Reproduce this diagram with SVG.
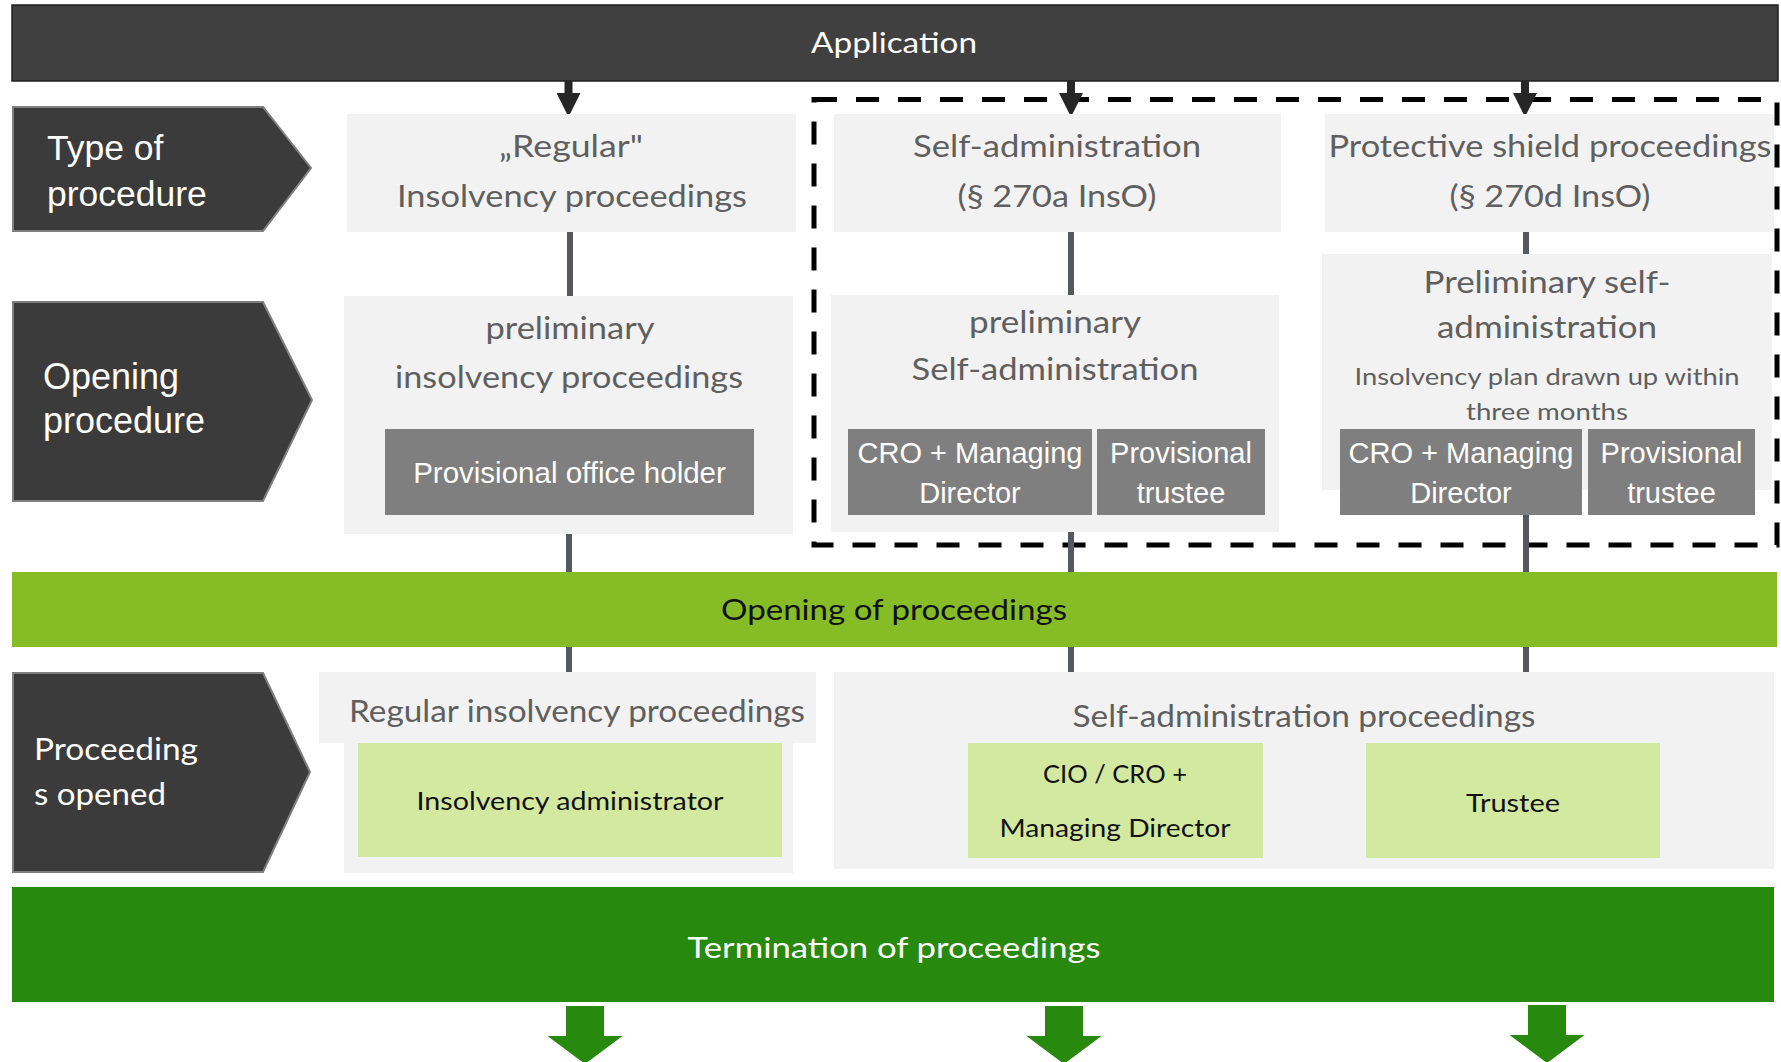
<svg xmlns="http://www.w3.org/2000/svg" width="1781" height="1062" viewBox="0 0 1781 1062">
<style>
.chev{fill:#3b3b3b;stroke:#7f7f7f;stroke-width:2}
.lt{fill:#f2f2f2}
.dk{fill:#7f7f7f}
.lg{fill:#d3e9a0}
.cal{font-family:Lato,"Open Sans",sans-serif}
.ar{font-family:"Liberation Sans",Arial,sans-serif}
.g{fill:#5f5f5f;text-anchor:middle}
.w{fill:#ffffff}
.b{fill:#111111;text-anchor:middle}
.m{text-anchor:middle}
.conn{stroke:#55595e;stroke-width:6;fill:none}
.arr{stroke:#262626;stroke-width:8;fill:none}
.dash{fill:none;stroke:#000;stroke-width:5;stroke-dasharray:23 19}
</style>
<defs>
<marker id="ah" markerUnits="userSpaceOnUse" markerWidth="24" markerHeight="24" refX="0" refY="12" orient="auto" viewBox="0 0 24 24">
<path d="M0,0 L24,12 L0,24 z" fill="#262626"/>
</marker>
</defs>

<g id="application">
<rect x="12" y="5" width="1766" height="76" fill="#404040" stroke="#1f1f1f" stroke-width="1.5"/>
<text class="cal w m" x="894" y="53" font-size="29.5" textLength="166" lengthAdjust="spacingAndGlyphs">Application</text>
</g>

<g id="stage-type">
<polygon class="chev" points="13,107 263,107 311,168 263,231 13,231"/>
<text class="ar w" x="47" y="160" font-size="35.5">Type of</text>
<text class="ar w" x="47" y="206" font-size="35.5">procedure</text>
</g>
<g id="stage-opening">
<polygon class="chev" points="13,302 263,302 312,400 263,501 13,501"/>
<text class="ar w" x="43" y="389" font-size="36">Opening</text>
<text class="ar w" x="43" y="433" font-size="36">procedure</text>
</g>
<g id="stage-opened">
<polygon class="chev" points="13,673 263,673 310,772 263,872 13,872"/>
<text class="cal w" x="34" y="760" font-size="31" textLength="164" lengthAdjust="spacingAndGlyphs">Proceeding</text>
<text class="cal w" x="34" y="805" font-size="31" textLength="132" lengthAdjust="spacingAndGlyphs">s opened</text>
</g>

<g id="dashed-frame">
<rect class="dash" x="814" y="99.5" width="963" height="445.5"/>
</g>

<g id="connectors">
<line class="arr" x1="568.5" y1="81" x2="568.5" y2="93" marker-end="url(#ah)"/>
<line class="arr" x1="1071" y1="81" x2="1071" y2="93" marker-end="url(#ah)"/>
<line class="arr" x1="1525" y1="81" x2="1525" y2="93" marker-end="url(#ah)"/>
<line class="conn" x1="570" y1="232" x2="570" y2="296"/>
<line class="conn" x1="569" y1="534" x2="569" y2="572"/>
<line class="conn" x1="569" y1="647" x2="569" y2="672"/>
<line class="conn" x1="1071" y1="232" x2="1071" y2="295"/>
<line class="conn" x1="1071" y1="532" x2="1071" y2="572"/>
<line class="conn" x1="1071" y1="647" x2="1071" y2="672"/>
<line class="conn" x1="1526" y1="232" x2="1526" y2="254"/>
<line class="conn" x1="1526" y1="515" x2="1526" y2="572"/>
<line class="conn" x1="1526" y1="647" x2="1526" y2="672"/>
</g>

<g id="type-regular">
<rect class="lt" x="347" y="114" width="449" height="118"/>
<text class="cal g" x="571" y="157" font-size="31" textLength="144" lengthAdjust="spacingAndGlyphs">„Regular"</text>
<text class="cal g" x="572" y="207" font-size="31" textLength="350" lengthAdjust="spacingAndGlyphs">Insolvency proceedings</text>
</g>
<g id="type-self">
<rect class="lt" x="834" y="114" width="447" height="118"/>
<text class="cal g" x="1057" y="157" font-size="31" textLength="288" lengthAdjust="spacingAndGlyphs">Self-administration</text>
<text class="cal g" x="1057" y="207" font-size="31" textLength="199" lengthAdjust="spacingAndGlyphs">(§ 270a InsO)</text>
</g>
<g id="type-shield">
<rect class="lt" x="1325" y="114" width="449" height="118"/>
<text class="cal g" x="1550" y="157" font-size="31" textLength="443" lengthAdjust="spacingAndGlyphs">Protective shield proceedings</text>
<text class="cal g" x="1550" y="207" font-size="31" textLength="201" lengthAdjust="spacingAndGlyphs">(§ 270d InsO)</text>
</g>

<g id="pre-regular">
<rect class="lt" x="344" y="296" width="449" height="238"/>
<text class="cal g" x="570" y="339" font-size="31" textLength="169" lengthAdjust="spacingAndGlyphs">preliminary</text>
<text class="cal g" x="569" y="388" font-size="31" textLength="348" lengthAdjust="spacingAndGlyphs">insolvency proceedings</text>
<rect class="dk" x="385" y="429" width="369" height="86"/>
<text class="ar w m" x="569.5" y="483" font-size="29.5">Provisional office holder</text>
</g>
<g id="pre-self">
<rect class="lt" x="831" y="295" width="448" height="237"/>
<text class="cal g" x="1055" y="333" font-size="31" textLength="172" lengthAdjust="spacingAndGlyphs">preliminary</text>
<text class="cal g" x="1055" y="380" font-size="31" textLength="287" lengthAdjust="spacingAndGlyphs">Self-administration</text>
<rect class="dk" x="848" y="429" width="244" height="86"/>
<text class="ar w m" x="970" y="463" font-size="29">CRO + Managing</text>
<text class="ar w m" x="970" y="503" font-size="29">Director</text>
<rect class="dk" x="1097" y="429" width="168" height="86"/>
<text class="ar w m" x="1181" y="463" font-size="29">Provisional</text>
<text class="ar w m" x="1181" y="503" font-size="29">trustee</text>
</g>
<g id="pre-shield">
<rect class="lt" x="1322" y="254" width="450" height="236"/>
<text class="cal g" x="1547" y="293" font-size="31" textLength="247" lengthAdjust="spacingAndGlyphs">Preliminary self-</text>
<text class="cal g" x="1547" y="338" font-size="31" textLength="220" lengthAdjust="spacingAndGlyphs">administration</text>
<text class="cal g" x="1547" y="385" font-size="23" textLength="385" lengthAdjust="spacingAndGlyphs">Insolvency plan drawn up within</text>
<text class="cal g" x="1547" y="420" font-size="23" textLength="162" lengthAdjust="spacingAndGlyphs">three months</text>
<rect class="dk" x="1340" y="429" width="242" height="86"/>
<text class="ar w m" x="1461" y="463" font-size="29">CRO + Managing</text>
<text class="ar w m" x="1461" y="503" font-size="29">Director</text>
<rect class="dk" x="1588" y="429" width="167" height="86"/>
<text class="ar w m" x="1671.5" y="463" font-size="29">Provisional</text>
<text class="ar w m" x="1671.5" y="503" font-size="29">trustee</text>
</g>

<g id="opening-of-proceedings">
<rect x="12" y="572" width="1765" height="75" fill="#86bc25"/>
<text class="cal b" x="894" y="620" font-size="29.5" textLength="346" lengthAdjust="spacingAndGlyphs">Opening of proceedings</text>
</g>

<g id="opened-regular">
<rect class="lt" x="319" y="672" width="497" height="71"/>
<rect class="lt" x="344" y="672" width="449" height="201"/>
<text class="cal g" x="577" y="722" font-size="31" textLength="456" lengthAdjust="spacingAndGlyphs">Regular insolvency proceedings</text>
<rect class="lg" x="358" y="743" width="424" height="114"/>
<text class="cal b" x="570" y="810" font-size="25" textLength="307" lengthAdjust="spacingAndGlyphs">Insolvency administrator</text>
</g>
<g id="opened-self">
<rect class="lt" x="834" y="672" width="940" height="197"/>
<text class="cal g" x="1304" y="727" font-size="31" textLength="463" lengthAdjust="spacingAndGlyphs">Self-administration proceedings</text>
<rect class="lg" x="968" y="743" width="295" height="115"/>
<text class="cal b" x="1115" y="783" font-size="25" textLength="144" lengthAdjust="spacingAndGlyphs">CIO / CRO +</text>
<text class="cal b" x="1115" y="837" font-size="25" textLength="231" lengthAdjust="spacingAndGlyphs">Managing Director</text>
<rect class="lg" x="1366" y="743" width="294" height="115"/>
<text class="cal b" x="1513" y="812" font-size="25" textLength="94" lengthAdjust="spacingAndGlyphs">Trustee</text>
</g>

<g id="termination">
<rect x="12" y="887" width="1762" height="115" fill="#278a0e"/>
<text class="cal w m" x="894" y="958" font-size="29.5" textLength="413" lengthAdjust="spacingAndGlyphs">Termination of proceedings</text>
</g>

<g id="exit-arrows" fill="#278a0e">
<polygon points="566,1006 604,1006 604,1036 622.5,1036 585,1064 547.5,1036 566,1036"/>
<polygon points="1045,1006 1083,1006 1083,1036 1101.5,1036 1064,1064 1026.5,1036 1045,1036"/>
<polygon points="1528,1005 1566,1005 1566,1035 1584.5,1035 1547,1063 1509.5,1035 1528,1035"/>
</g>
</svg>
